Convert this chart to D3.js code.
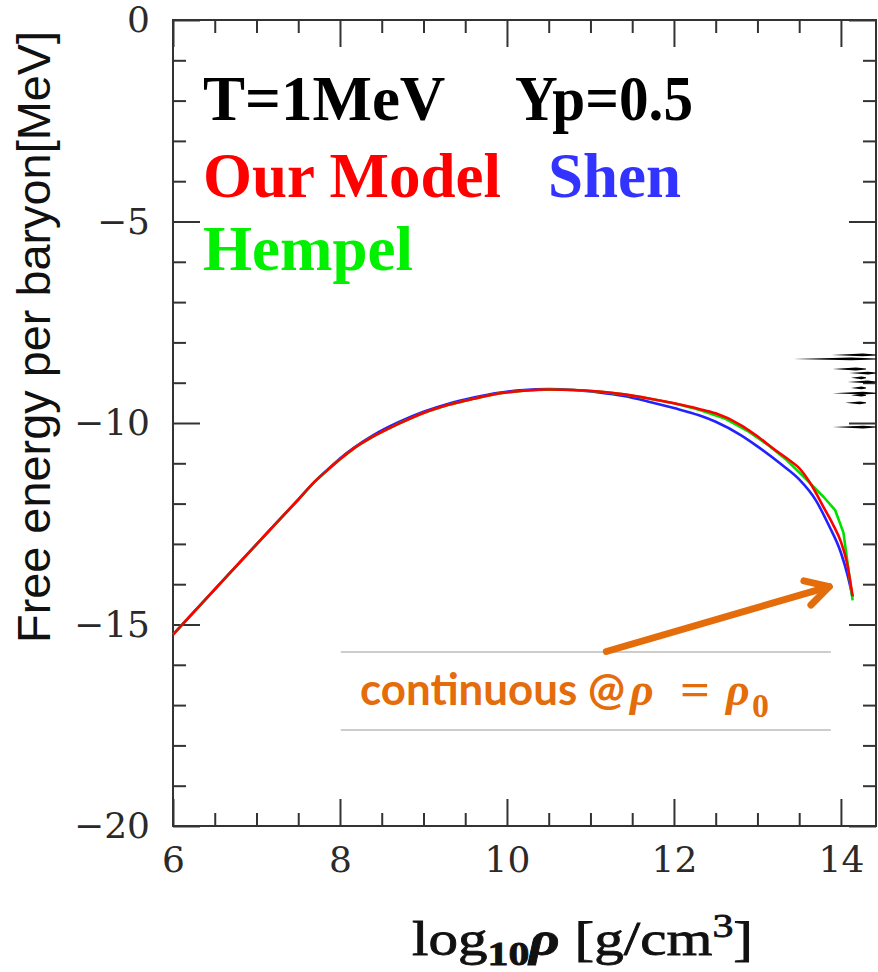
<!DOCTYPE html>
<html>
<head>
<meta charset="utf-8">
<script src="https://cdn.jsdelivr.net/npm/d3@7"></script>
<style>
  html, body { margin: 0; padding: 0; background: #fff; }
  svg { display: block; }
</style>
</head>
<body>
<svg id="chart" width="878" height="972"></svg>
<script>
// Free energy per baryon vs log10(density), T = 1 MeV, Yp = 0.5
const rhoOurModel = [6.0, 6.5, 7.0, 7.5, 7.7, 7.85, 8.0, 8.2, 8.4, 8.7, 9.0, 9.3, 9.6, 9.9, 10.2, 10.5, 10.8, 11.1, 11.4, 11.7, 12.0, 12.3, 12.5, 12.8, 13.0, 13.2, 13.4, 13.5, 13.65, 13.8, 13.9, 14.0, 14.07, 14.14];
const fOurModel   = [-15.25, -14.13, -13.01, -11.9, -11.45, -11.17, -10.9, -10.58, -10.33, -10.02, -9.75, -9.55, -9.4, -9.27, -9.2, -9.17, -9.18, -9.22, -9.29, -9.39, -9.51, -9.65, -9.76, -10.05, -10.33, -10.65, -10.95, -11.12, -11.55, -12.12, -12.5, -12.95, -13.45, -14.3];

const rhoShen = [6.0, 6.5, 7.0, 7.5, 7.7, 7.85, 8.0, 8.4, 8.7, 9.0, 9.3, 9.6, 9.9, 10.2, 10.5, 10.8, 11.1, 11.4, 11.7, 12.0, 12.3, 12.5, 12.8, 13.0, 13.3, 13.5, 13.7, 13.85, 14.0, 14.08, 14.14];
const fShen   = [-15.25, -14.13, -13.01, -11.9, -11.45, -11.16, -10.88, -10.3, -9.98, -9.72, -9.52, -9.37, -9.25, -9.18, -9.16, -9.18, -9.24, -9.33, -9.47, -9.63, -9.81, -9.97, -10.3, -10.58, -11.05, -11.4, -11.92, -12.52, -13.22, -13.78, -14.32];

const rhoHempel = [6.0, 6.5, 7.0, 7.5, 7.7, 7.85, 8.0, 8.2, 8.4, 8.7, 9.0, 9.3, 9.6, 9.9, 10.2, 10.5, 10.8, 11.1, 11.4, 11.7, 12.0, 12.3, 12.6, 12.9, 13.15, 13.35, 13.6, 13.79, 13.93, 14.03, 14.08, 14.14];
const fHempel   = [-15.25, -14.13, -13.01, -11.9, -11.45, -11.17, -10.9, -10.58, -10.33, -10.02, -9.75, -9.55, -9.4, -9.27, -9.2, -9.17, -9.18, -9.22, -9.29, -9.39, -9.51, -9.67, -9.88, -10.22, -10.58, -10.92, -11.43, -11.83, -12.16, -12.72, -13.48, -14.4];

// Axis ticks
const xMajorTicks = [6, 8, 10, 12, 14];
const xMinorTicks = [6.5, 7, 7.5, 8.5, 9, 9.5, 10.5, 11, 11.5, 12.5, 13, 13.5];
const yMajorTicks = [0, -5, -10, -15, -20];
const yMinorTicks = [-1, -2, -3, -4, -6, -7, -8, -9, -11, -12, -13, -14, -16, -17, -18, -19];

// Short horizontal streaks near the right edge: [f, rho start, rho end]
const streakF     = [-8.31, -8.41, -8.66, -8.76, -8.88, -8.98, -9.13, -9.26, -9.31, -9.5, -10.1];
const streakStart = [13.89, 13.43, 13.9, 14.1, 14.12, 14.08, 14.12, 13.9, 14.12, 14.05, 13.9];
const streakEnd   = [14.42, 14.42, 14.3, 14.42, 14.3, 14.42, 14.3, 14.42, 14.3, 14.3, 14.42];

const series = [
  { name: "Shen",      rho: rhoShen,     f: fShen,     color: "#2222ff", curve: d3.curveMonotoneX },
  { name: "Hempel",    rho: rhoHempel,   f: fHempel,   color: "#00e000", curve: d3.curveLinear },
  { name: "Our Model", rho: rhoOurModel, f: fOurModel, color: "#ff0000", curve: d3.curveMonotoneX }
];

const svg = d3.select("#chart");
const x = d3.scaleLinear().domain([6, 14.42]).range([173, 876]);
const y = d3.scaleLinear().domain([-20, 0]).range([826, 20]);

const axisColor = "#333";
const tickFont = "'DejaVu Serif', 'Liberation Serif', serif";
const fmt = d => d < 0 ? "\u2212" + Math.abs(d) : String(d);

function styleAxis(g) {
  g.select(".domain").remove();
  g.selectAll(".tick line").attr("stroke", axisColor).attr("stroke-width", 2);
}

// Bottom axis (labels) + minor ticks
svg.append("g").attr("transform", `translate(0,${y(-20)})`)
  .call(d3.axisBottom(x).tickValues(xMajorTicks).tickSizeInner(-27).tickSizeOuter(0).tickPadding(20).tickFormat(fmt))
  .call(styleAxis)
  .call(g => g.selectAll("text").attr("font-family", tickFont).attr("font-size", 36).attr("fill", "#2a2a2a").attr("dy", "0.71em"));
svg.append("g").attr("transform", `translate(0,${y(-20)})`)
  .call(d3.axisBottom(x).tickValues(xMinorTicks).tickSizeInner(-13).tickSizeOuter(0).tickFormat(""))
  .call(styleAxis);

// Top axis ticks
svg.append("g").attr("transform", `translate(0,${y(0)})`)
  .call(d3.axisTop(x).tickValues(xMajorTicks).tickSizeInner(-27).tickSizeOuter(0).tickFormat(""))
  .call(styleAxis);
svg.append("g").attr("transform", `translate(0,${y(0)})`)
  .call(d3.axisTop(x).tickValues(xMinorTicks).tickSizeInner(-13).tickSizeOuter(0).tickFormat(""))
  .call(styleAxis);

// Left axis (labels) + minor ticks
svg.append("g").attr("transform", `translate(${x(6)},0)`)
  .call(d3.axisLeft(y).tickValues(yMajorTicks).tickSizeInner(-27).tickSizeOuter(0).tickPadding(23).tickFormat(fmt))
  .call(styleAxis)
  .call(g => g.selectAll("text").attr("font-family", tickFont).attr("font-size", 36).attr("fill", "#2a2a2a"));
svg.append("g").attr("transform", `translate(${x(6)},0)`)
  .call(d3.axisLeft(y).tickValues(yMinorTicks).tickSizeInner(-13).tickSizeOuter(0).tickFormat(""))
  .call(styleAxis);

// Right axis ticks
svg.append("g").attr("transform", `translate(${x(14.42)},0)`)
  .call(d3.axisRight(y).tickValues(yMajorTicks).tickSizeInner(-27).tickSizeOuter(0).tickFormat(""))
  .call(styleAxis);
svg.append("g").attr("transform", `translate(${x(14.42)},0)`)
  .call(d3.axisRight(y).tickValues(yMinorTicks).tickSizeInner(-13).tickSizeOuter(0).tickFormat(""))
  .call(styleAxis);

// Frame
svg.append("rect")
  .attr("x", x(6)).attr("y", y(0))
  .attr("width", x(14.42) - x(6)).attr("height", y(-20) - y(0))
  .attr("fill", "none").attr("stroke", axisColor).attr("stroke-width", 2);

// Streaks at the right edge
const streaks = streakF.map((f, i) => ({ f, a: streakStart[i], b: streakEnd[i] }));
svg.append("g").selectAll("path").data(streaks).join("path")
  .attr("d", s => {
    const x0 = x(s.a), x1 = x(s.b), yy = y(s.f);
    const xm = x0 + (x1 - x0) * 0.7;
    return `M${x0},${yy} L${xm},${yy - 1.4} L${x1},${yy - 0.5} L${x1},${yy + 0.5} L${xm},${yy + 1.4} Z`;
  })
  .attr("fill", "#000");

// Curves
svg.append("g").selectAll("path").data(series).join("path")
  .attr("d", s => d3.line().curve(s.curve)(s.rho.map((r, i) => [x(r), y(s.f[i])])))
  .attr("fill", "none")
  .attr("stroke", s => s.color)
  .attr("stroke-width", 2.6)
  .attr("stroke-linejoin", "round");

// Heading and legend text
const serifBold = "'Liberation Serif', 'Times New Roman', serif";
const heading = svg.append("g").attr("font-family", serifBold).attr("font-weight", "bold").attr("font-size", 63);
heading.append("text").attr("x", 203).attr("y", 120).attr("fill", "#000").text("T=1MeV");
heading.append("text").attr("x", 515).attr("y", 120).attr("fill", "#000")
  .attr("textLength", 178).attr("lengthAdjust", "spacingAndGlyphs").text("Yp=0.5");
heading.append("text").attr("x", 203).attr("y", 197).attr("fill", "#ff0000").text("Our Model");
heading.append("text").attr("x", 548).attr("y", 197).attr("fill", "#3333ff").text("Shen");
heading.append("text").attr("x", 203).attr("y", 270).attr("fill", "#00f000").text("Hempel");

// Y-axis title
svg.append("text")
  .attr("transform", "translate(50,337) rotate(-90)")
  .attr("text-anchor", "middle")
  .attr("font-family", "'Liberation Sans', Arial, sans-serif")
  .attr("font-size", 46)
  .attr("fill", "#111")
  .attr("textLength", 612).attr("lengthAdjust", "spacingAndGlyphs")
  .text("Free energy per baryon[MeV]");

// X-axis title
const xt = svg.append("text")
  .attr("x", 412).attr("y", 955)
  .attr("font-family", serifBold).attr("font-size", 48).attr("fill", "#111")
  .attr("stroke", "#111").attr("stroke-width", 0.8)
  .attr("textLength", 341).attr("lengthAdjust", "spacingAndGlyphs");
xt.append("tspan").text("log");
xt.append("tspan").attr("font-size", 34).attr("font-weight", "bold").attr("dy", 10).text("10");
xt.append("tspan").attr("font-style", "italic").attr("font-weight", "bold").attr("dy", -10).text("\u03c1");
xt.append("tspan").text(" [g/cm");
xt.append("tspan").attr("font-size", 34).attr("dy", -18).text("3");
xt.append("tspan").attr("dy", 18).text("]");

// Annotation: guide lines, arrow and caption
const orange = "#e46c0a";
const guideF = [-15.68, -17.62];
svg.append("g").selectAll("line").data(guideF).join("line")
  .attr("x1", x(8.01)).attr("x2", x(13.88))
  .attr("y1", d => y(d)).attr("y2", d => y(d))
  .attr("stroke", "#bdbdbd").attr("stroke-width", 1.5);

const arrowFrom = [11.19, -15.67], arrowTo = [13.86, -14.06];
const ax0 = x(arrowFrom[0]), ay0 = y(arrowFrom[1]), ax1 = x(arrowTo[0]), ay1 = y(arrowTo[1]);
const ang = Math.atan2(ay1 - ay0, ax1 - ax0);
const headLen = 26, headAng = Math.PI / 6.2;
const arrow = svg.append("g").attr("stroke", orange).attr("stroke-width", 7).attr("stroke-linecap", "round").attr("fill", "none").attr("stroke-linejoin", "round");
arrow.append("line").attr("x1", ax0).attr("y1", ay0).attr("x2", ax1).attr("y2", ay1);
arrow.append("path").attr("d",
  `M${ax1 - headLen * Math.cos(ang - headAng)},${ay1 - headLen * Math.sin(ang - headAng)} L${ax1},${ay1} L${ax1 - headLen * Math.cos(ang + headAng)},${ay1 - headLen * Math.sin(ang + headAng)}`);

const cap = svg.append("g").attr("fill", orange).attr("font-weight", "bold");
cap.append("text").attr("x", 360).attr("y", 705)
  .attr("font-family", "Lato, 'Open Sans', sans-serif").attr("font-size", 44)
  .attr("textLength", 265).attr("lengthAdjust", "spacingAndGlyphs")
  .text("continuous @");
const mathFont = "'Liberation Serif', serif";
cap.append("text").attr("x", 630).attr("y", 705).attr("font-family", mathFont).attr("font-style", "italic").attr("font-size", 46).text("\u03c1");
cap.append("text").attr("x", 680).attr("y", 705).attr("font-family", mathFont).attr("font-size", 46)
  .attr("textLength", 30).attr("lengthAdjust", "spacingAndGlyphs").text("=");
cap.append("text").attr("x", 726).attr("y", 705).attr("font-family", mathFont).attr("font-style", "italic").attr("font-size", 46).text("\u03c1");
cap.append("text").attr("x", 752).attr("y", 717).attr("font-family", mathFont).attr("font-size", 34).text("0");
</script>
</body>
</html>
